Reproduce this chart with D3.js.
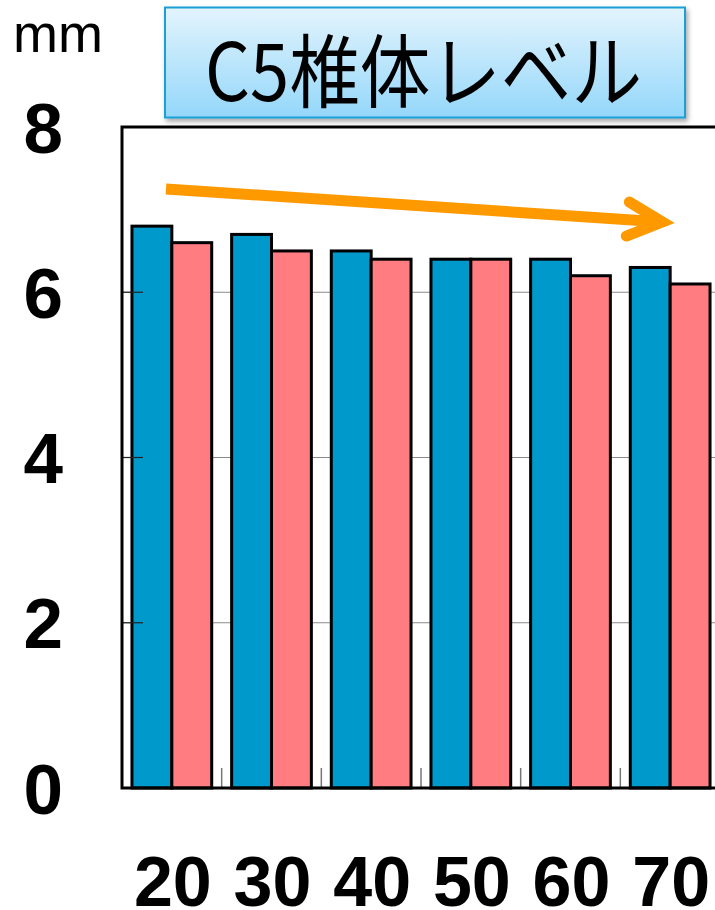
<!DOCTYPE html>
<html>
<head>
<meta charset="utf-8">
<script src="https://cdn.jsdelivr.net/npm/d3@7"></script>
<style>
  html, body { margin: 0; padding: 0; background: #fff; }
  svg { display: block; }
</style>
</head>
<body>
<svg id="chart" width="715" height="910"></svg>
<script>
// Age groups (decades) and the two series of C5 vertebral-level values (mm)
const categories = ["20", "30", "40", "50", "60", "70"];
const seriesNames = ["blue", "pink"];
const seriesA = [6.8, 6.7, 6.5, 6.4, 6.4, 6.3];
const seriesB = [6.6, 6.5, 6.4, 6.4, 6.2, 6.1];
const yTicks = [0, 2, 4, 6, 8];
const titleText = "C5椎体レベル";
const unitText = "mm";

const colors = { blue: "#0099CC", pink: "#FF7C80" };

const svg = d3.select("#chart");
const plot = { left: 122, top: 127, right: 720, bottom: 788 };

const x = d3.scaleBand()
  .domain(categories)
  .range([plot.left, plot.right])
  .paddingInner(0.2)
  .paddingOuter(0.1);

const xSub = d3.scaleBand()
  .domain(seriesNames)
  .range([0, x.bandwidth()]);

const y = d3.scaleLinear()
  .domain([0, 8])
  .range([plot.bottom, plot.top]);

const defs = svg.append("defs");
const grad = defs.append("linearGradient")
  .attr("id", "titleFill").attr("x1", 0).attr("y1", 0).attr("x2", 0).attr("y2", 1);
grad.append("stop").attr("offset", "0%").attr("stop-color", "#E3F4FD");
grad.append("stop").attr("offset", "100%").attr("stop-color", "#94D7FA");
const shadow = defs.append("filter").attr("id", "boxShadow")
  .attr("x", "-5%").attr("y", "-10%").attr("width", "115%").attr("height", "130%");
shadow.append("feDropShadow")
  .attr("dx", 2).attr("dy", 3).attr("stdDeviation", 2.5)
  .attr("flood-color", "#000").attr("flood-opacity", 0.35);

// Horizontal gridlines behind the bars
svg.append("g")
  .selectAll("line")
  .data(yTicks.filter(d => d > 0 && d < 8))
  .join("line")
  .attr("x1", plot.left).attr("x2", plot.right)
  .attr("y1", d => y(d)).attr("y2", d => y(d))
  .attr("stroke", "#8a8a8a").attr("stroke-width", 1);

// Bars
const rows = categories.map((c, i) => ({ cat: c, values: [
  { key: "blue", value: seriesA[i] },
  { key: "pink", value: seriesB[i] }
]}));

svg.append("g")
  .selectAll("g")
  .data(rows)
  .join("g")
  .attr("transform", d => `translate(${x(d.cat)},0)`)
  .selectAll("rect")
  .data(d => d.values)
  .join("rect")
  .attr("x", d => xSub(d.key))
  .attr("width", xSub.bandwidth())
  .attr("y", d => y(d.value))
  .attr("height", d => y(0) - y(d.value))
  .attr("fill", d => colors[d.key])
  .attr("stroke", "#000")
  .attr("stroke-width", 3)
  .attr("stroke-linejoin", "miter");

// Category separator ticks along the bottom
const bounds = categories.slice(1).map(c => x(c) - x.step() * x.paddingInner() / 2);
svg.append("g")
  .selectAll("line")
  .data(bounds)
  .join("line")
  .attr("x1", d => d).attr("x2", d => d)
  .attr("y1", plot.bottom - 20).attr("y2", plot.bottom)
  .attr("stroke", "#777").attr("stroke-width", 1.5);

// Inward tick marks on the value axis
svg.append("g")
  .selectAll("line")
  .data(yTicks.filter(d => d > 0 && d < 8))
  .join("line")
  .attr("x1", plot.left).attr("x2", plot.left + 21)
  .attr("y1", d => y(d)).attr("y2", d => y(d))
  .attr("stroke", "#222").attr("stroke-width", 1.2);

// Plot frame
svg.append("rect")
  .attr("x", plot.left).attr("y", plot.top)
  .attr("width", plot.right - plot.left).attr("height", plot.bottom - plot.top)
  .attr("fill", "none").attr("stroke", "#000").attr("stroke-width", 3);

// Value axis labels
svg.append("g")
  .selectAll("text")
  .data(yTicks)
  .join("text")
  .attr("x", 63)
  .attr("y", d => y(d))
  .attr("dy", "0.36em")
  .attr("text-anchor", "end")
  .attr("font-family", "'Liberation Sans', Arial, sans-serif")
  .attr("font-weight", "bold")
  .attr("font-size", 71)
  .text(d => d);

// Category labels
svg.append("g")
  .selectAll("text")
  .data(categories)
  .join("text")
  .attr("x", d => x(d) + x.bandwidth() / 2 + 1)
  .attr("y", 906)
  .attr("text-anchor", "middle")
  .attr("font-family", "'Liberation Sans', Arial, sans-serif")
  .attr("font-weight", "bold")
  .attr("font-size", 70)
  .text(d => d);

// Unit label
svg.append("text")
  .attr("x", 13).attr("y", 52)
  .attr("font-family", "'Liberation Sans', Arial, sans-serif")
  .attr("font-size", 54)
  .text(unitText);

// Title box
svg.append("rect")
  .attr("x", 165).attr("y", 7.5)
  .attr("width", 520).attr("height", 110)
  .attr("fill", "url(#titleFill)")
  .attr("stroke", "#1A9FD6").attr("stroke-width", 2)
  .attr("filter", "url(#boxShadow)");
svg.append("text")
  .attr("x", 205).attr("y", 101)
  .attr("font-family", "'Noto Sans CJK JP', 'Liberation Sans', sans-serif")
  .attr("font-size", 80)
  .attr("textLength", 437)
  .attr("lengthAdjust", "spacingAndGlyphs")
  .text(titleText);

// Downward trend arrow
const arrowStart = [x("20") + 34, y(7.25)];
const arrowTip = [x("70") + 32, y(6.85)];
svg.append("line")
  .attr("x1", arrowStart[0]).attr("y1", arrowStart[1])
  .attr("x2", arrowTip[0] - 4).attr("y2", arrowTip[1] - 0.3)
  .attr("stroke", "#FF9900").attr("stroke-width", 11);
svg.append("path")
  .attr("d", d3.line()([
    [arrowTip[0] - 33, arrowTip[1] - 20],
    arrowTip,
    [arrowTip[0] - 36, arrowTip[1] + 14]
  ]))
  .attr("fill", "none")
  .attr("stroke", "#FF9900").attr("stroke-width", 11)
  .attr("stroke-linecap", "round").attr("stroke-linejoin", "miter");
</script>
</body>
</html>
